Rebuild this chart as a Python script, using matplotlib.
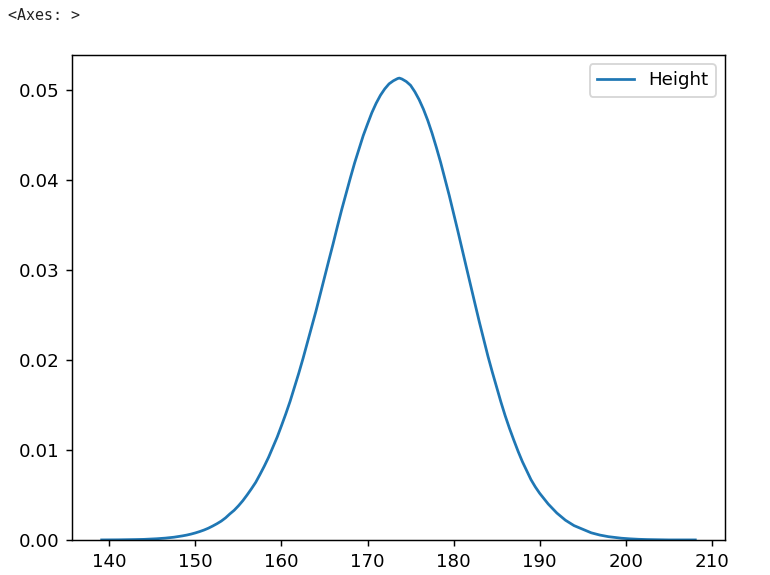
import matplotlib
matplotlib.use("Agg")
import matplotlib.pyplot as plt

# Height density curve (whole-unit readings)
height_x = [139.1, 140, 141, 142, 143, 144, 145, 146, 147, 148, 149, 150,
            151, 152, 153, 154, 155, 156, 157, 158, 159, 160, 161, 162,
            163, 164, 165, 166, 167, 168, 169, 170, 171, 172, 173, 173.7,
            174, 175, 176, 177, 178, 179, 180, 181, 182, 183, 184, 185,
            186, 187, 188, 189, 190, 191, 192, 193, 194, 195, 196, 197,
            198, 199, 200, 201, 202, 203, 204, 205, 206, 207, 208.1]
density = [0.00001, 0.00001, 0.00002, 0.00003, 0.00005, 0.00007, 0.00011,
           0.00017, 0.00026, 0.00038, 0.00055, 0.00079, 0.00111, 0.00155,
           0.0021, 0.0029, 0.0038, 0.0050, 0.0064, 0.0082, 0.0103, 0.0127,
           0.0154, 0.0185, 0.0219, 0.0254, 0.0292, 0.0329, 0.0367, 0.0402,
           0.0434, 0.0462, 0.0485, 0.0501, 0.0510, 0.0513, 0.0512, 0.0505,
           0.0489, 0.0466, 0.0436, 0.0401, 0.0363, 0.0323, 0.0282, 0.0242,
           0.0204, 0.0170, 0.0138, 0.0111, 0.0087, 0.0067, 0.0052, 0.0040,
           0.0030, 0.0022, 0.0016, 0.0012, 0.0008, 0.00055, 0.00037,
           0.00025, 0.00016, 0.00010, 0.00006, 0.00004, 0.00002, 0.00001,
           0.00001, 0.00001, 0.00001]

# additional half-unit readings
height_x_half = [145.5, 146.5, 147.5, 148.5, 149.5, 150.5, 151.5, 152.5,
                 153.5, 154.5, 155.5, 156.5, 157.5, 158.5, 159.5, 160.5,
                 161.5, 162.5, 163.5, 164.5, 165.5, 166.5, 167.5, 168.5,
                 169.5, 170.5, 171.5, 172.5, 173.5, 174.5, 175.5, 176.5,
                 177.5, 178.5, 179.5, 180.5, 181.5, 182.5, 183.5, 184.5,
                 185.5, 186.5, 187.5, 188.5, 189.5, 190.5, 191.5, 192.5,
                 193.5, 194.5, 195.5, 196.5, 197.5, 198.5, 199.5, 200.5,
                 201.5, 202.5]
density_half = [0.00014, 0.00021, 0.00031, 0.00046, 0.00066, 0.00094,
                0.00131, 0.00181, 0.00246, 0.00330, 0.00436, 0.00568,
                0.00728, 0.00919, 0.01143, 0.01401, 0.01693, 0.02015,
                0.02362, 0.02729, 0.03105, 0.03483, 0.03847, 0.04188,
                0.04491, 0.04745, 0.04939, 0.05066, 0.05125, 0.05092,
                0.04978, 0.04784, 0.04518, 0.04193, 0.03826, 0.03431,
                0.03024, 0.02620, 0.02231, 0.01866, 0.01534, 0.01240,
                0.00985, 0.00769, 0.00590, 0.00460, 0.00350, 0.00260,
                0.00190, 0.00140, 0.00100, 0.00067, 0.00046, 0.00031,
                0.00020, 0.00013, 0.00008, 0.00005]
series_label = "Height"

pairs = sorted(zip(height_x + height_x_half, density + density_half))
xs = [p[0] for p in pairs]
ys = [p[1] for p in pairs]

DPI = 131.6
fig = plt.figure(figsize=(770 / DPI, 575 / DPI), dpi=DPI)
ax = fig.add_axes([72 / 770, 35 / 575, 653 / 770, 485 / 575])
ax.plot(xs, ys, color="#1f77b4", label=series_label)
ax.set_ylim(bottom=0)
ax.legend(loc="upper right")

fig.text(8 / 770, 1 - 20 / 575, "<Axes: >", family="DejaVu Sans Mono",
         fontsize=8.2, va="baseline", ha="left", color="#222222")

fig.savefig("out.png", dpi=DPI)
